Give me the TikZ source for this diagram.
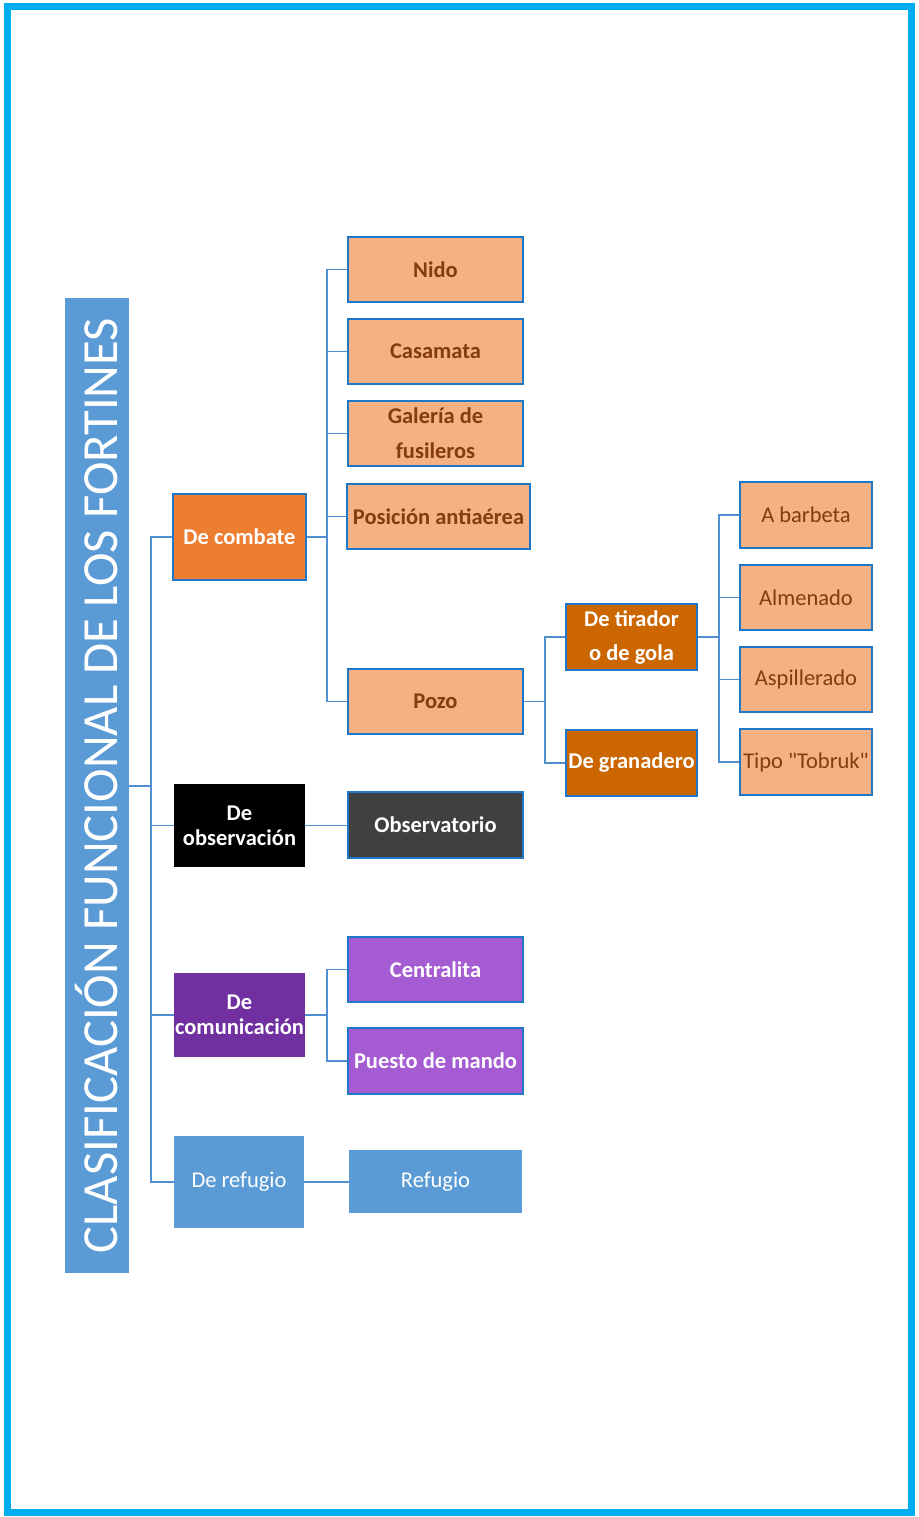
\documentclass[tikz,border=0pt]{standalone}
\usepackage{fontspec}
\setmainfont{Carlito}[Ligatures=TeXOff]
\definecolor{frame}{HTML}{00AEEF}
\definecolor{ttl}{HTML}{5B9BD5}
\definecolor{bord}{HTML}{1F77C8}
\definecolor{conn}{HTML}{4F8FCF}
\definecolor{peach}{HTML}{F4B183}
\definecolor{brownt}{HTML}{843C0C}
\definecolor{orng}{HTML}{ED7D31}
\definecolor{dorng}{HTML}{CC6600}
\definecolor{dgray}{HTML}{404040}
\definecolor{purp}{HTML}{7030A0}
\definecolor{lpurp}{HTML}{A55BD2}
\tikzset{
  box/.style={rectangle, inner sep=0pt, align=center, font=\fontsize{22.5}{34}\selectfont},
  peachbox/.style={box, fill=peach, draw=bord, line width=1.6pt, text=brownt, font=\fontsize{22.5}{35}\selectfont\bfseries},
  peachreg/.style={box, fill=peach, draw=bord, line width=1.6pt, text=brownt},
  lvl1/.style={box, text=white, font=\fontsize{22.5}{25}\selectfont\bfseries},
  dark/.style={box, fill=dorng, draw=bord, line width=1.6pt, text=white, font=\fontsize{22.5}{34}\selectfont\bfseries},
  wbold/.style={box, draw=bord, line width=1.6pt, text=white, font=\fontsize{22.5}{25}\selectfont\bfseries},
  cn/.style={draw=conn, line width=1.6pt},
}
\begin{document}
\begin{tikzpicture}[x=1pt,y=-1pt]
\useasboundingbox (0,0) rectangle (918,1517);
\draw[frame, line width=7pt] (7,7) rectangle (911,1512);
% title
\node[box, fill=ttl, minimum width=64pt, minimum height=975pt] (title) at (97,785.5) {};
\node[rotate=90, text=white, font=\fontsize{50.6}{50}\selectfont, inner sep=0pt] at (97,785.5) {CLASIFICACIÓN FUNCIONAL DE LOS FORTINES};
% level 1
\node[lvl1, fill=orng, draw=bord, line width=1.6pt, minimum width=133pt, minimum height=86pt] (comb) at (239.5,537) {De combate};
\node[lvl1, fill=black, minimum width=131pt, minimum height=83pt] (obs) at (239.5,825.5) {De\\observación};
\node[lvl1, fill=purp, minimum width=131pt, minimum height=84pt] (com) at (239.5,1015) {De\\comunicación};
\node[box, fill=ttl, text=white, minimum width=130pt, minimum height=92pt] (ref) at (239,1182) {De refugio};
% combat children
\node[peachbox, minimum width=175pt, minimum height=65pt] (nido) at (435.5,269.5) {Nido};
\node[peachbox, minimum width=175pt, minimum height=65pt] (casa) at (435.5,351.5) {Casamata};
\node[peachbox, minimum width=175pt, minimum height=65pt] (gal) at (435.5,433.5) {Galería de\\fusileros};
\node[peachbox, minimum width=183pt, minimum height=65pt] (pos) at (438.5,516.5) {Posición antiaérea};
\node[peachbox, minimum width=175pt, minimum height=65pt] (pozo) at (435.5,701.5) {Pozo};
% pozo children
\node[dark, minimum width=131pt, minimum height=66pt] (tir) at (631.5,637) {De tirador\\o de gola};
\node[dark, minimum width=131pt, minimum height=66pt] (gran) at (631.5,763) {De granadero};
% tirador children
\node[peachreg, minimum width=132pt, minimum height=66pt] (barb) at (806,515) {A barbeta};
\node[peachreg, minimum width=132pt, minimum height=65pt] (alm) at (806,597.5) {Almenado};
\node[peachreg, minimum width=132pt, minimum height=65pt] (asp) at (806,679.5) {Aspillerado};
\node[peachreg, minimum width=132pt, minimum height=66pt] (tob) at (806,762) {Tipo "Tobruk"};
% other children
\node[wbold, fill=dgray, minimum width=175pt, minimum height=66pt] (obsv) at (435.5,825) {Observatorio};
\node[wbold, fill=lpurp, minimum width=175pt, minimum height=65pt] (cent) at (435.5,969.5) {Centralita};
\node[wbold, fill=lpurp, minimum width=175pt, minimum height=66pt] (pues) at (435.5,1061) {Puesto de mando};
\node[box, fill=ttl, text=white, minimum width=173pt, minimum height=63pt] (refu) at (435.5,1181.5) {Refugio};
% connectors
\coordinate (j0) at (151,786);
\draw[cn] (title.east |- j0) -- (j0);
\draw[cn] (comb.west) -| (j0) |- (ref.west);
\draw[cn] (obs.west) -- (obs.west -| j0);
\draw[cn] (com.west) -- (com.west -| j0);
\coordinate (j1) at (327,537);
\draw[cn] (comb.east) -- (j1);
\draw[cn] (nido.west) -| (j1) |- (pozo.west);
\draw[cn] (casa.west) -- (casa.west -| j1);
\draw[cn] (gal.west) -- (gal.west -| j1);
\draw[cn] (pos.west) -- (pos.west -| j1);
\coordinate (j2) at (545,701.5);
\draw[cn] (pozo.east) -- (j2);
\draw[cn] (tir.west) -| (j2) |- (gran.west);
\coordinate (j3) at (719,637);
\draw[cn] (tir.east) -- (j3);
\draw[cn] (barb.west) -| (j3) |- (tob.west);
\draw[cn] (alm.west) -- (alm.west -| j3);
\draw[cn] (asp.west) -- (asp.west -| j3);
\draw[cn] (obs.east) -- (obs.east -| obsv.west);
\coordinate (j4) at (327,1015);
\draw[cn] (com.east) -- (j4);
\draw[cn] (cent.west) -| (j4) |- (pues.west);
\draw[cn] (ref.east) -- (ref.east -| refu.west);
\end{tikzpicture}
\end{document}
